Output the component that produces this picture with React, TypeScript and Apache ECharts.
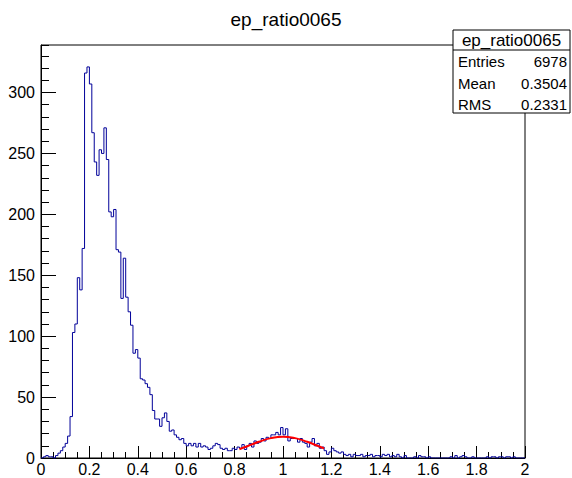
import React, { useEffect, useRef } from "react";
import * as echarts from "echarts";

const TITLE = "ep_ratio0065";
const X_MIN = 0;
const X_MAX = 2;
const BIN_WIDTH = 0.01;
const Y_MAX = 339;

// bin contents, 200 bins of width 0.01 from 0 to 2
const counts: number[] = [
  0, 1, 2, 1, 1, 0, 2, 4, 6, 9,
  12, 18, 34, 103, 110, 148, 138, 172, 316, 321,
  307, 267, 243, 232, 253, 250, 271, 245, 202, 198,
  204, 171, 169, 131, 164, 132, 120, 109, 86, 89,
  82, 65, 64, 61, 58, 52, 39, 32, 32, 26,
  33, 37, 30, 22, 23, 19, 17, 15, 16, 12,
  10, 12, 10, 12, 9, 12, 9, 10, 9, 7,
  8, 10, 12, 11, 8, 7, 8, 6, 6, 8,
  7, 9, 8, 11, 7, 10, 12, 9, 14, 12,
  13, 16, 14, 17, 16, 19, 19, 21, 19, 25,
  19, 24, 14, 16, 16, 16, 13, 16, 13, 12,
  9, 13, 16, 10, 12, 8, 9, 6, 3, 5,
  8, 6, 5, 4, 5, 3, 2, 3, 1, 3,
  2, 2, 3, 1, 2, 2, 3, 1, 2, 2,
  1, 3, 2, 3, 1, 2, 1, 3, 1, 0,
  2, 0, 0, 0, 1, 0, 2, 1, 1, 0,
  1, 0, 0, 0, 0, 0, 0, 0, 0, 1,
  0, 2, 0, 1, 2, 1, 0, 0, 1, 0,
  0, 0, 0, 0, 1, 0, 1, 1, 0, 1,
  1, 0, 1, 1, 0, 1, 0, 0, 0, 0,
];

// fitted gaussian curve
const fitX: number[] = [0.82, 0.85, 0.9, 0.95, 1.0, 1.05, 1.1, 1.15, 1.17];
const fitY: number[] = [7.2, 9.4, 13.3, 16.3, 17.5, 16.3, 13.3, 9.4, 7.9];

const statLabels: string[] = ["Entries", "Mean", "RMS"];
const statValues: string[] = ["6978", "0.3504", "0.2331"];

const FONT = "'Liberation Sans', Arial, Helvetica, sans-serif";

export default function App() {
  const ref = useRef<HTMLDivElement>(null);

  useEffect(() => {
    if (!ref.current) return;
    const chart = echarts.init(ref.current, undefined, { renderer: "svg" });

    const histData: [number, number][] = counts.map((c, i) => [
      +(X_MIN + i * BIN_WIDTH).toFixed(4),
      c,
    ]);
    histData.push([X_MAX, counts[counts.length - 1]]);

    const fitData = fitX.map((x, i) => [x, fitY[i]]);

    const boxX = 453;
    const boxY = 30;
    const boxW = 117;
    const boxH = 83;
    const rowYs = [61, 83, 104];

    const statGraphics: any[] = [
      {
        type: "rect",
        shape: { x: boxX, y: boxY, width: boxW, height: boxH },
        style: { fill: "#fff", stroke: "#000", lineWidth: 1 },
        z: 100,
      },
      {
        type: "line",
        shape: { x1: boxX, y1: 50, x2: boxX + boxW, y2: 50 },
        style: { stroke: "#000", lineWidth: 1 },
        z: 101,
      },
      {
        type: "text",
        x: boxX + boxW / 2,
        y: 40,
        style: {
          text: TITLE,
          fill: "#000",
          font: `17px ${FONT}`,
          textAlign: "center",
          textVerticalAlign: "middle",
        },
        z: 101,
      },
    ];
    statLabels.forEach((lab, i) => {
      statGraphics.push({
        type: "text",
        x: boxX + 5,
        y: rowYs[i],
        style: {
          text: lab,
          fill: "#000",
          font: `15px ${FONT}`,
          textAlign: "left",
          textVerticalAlign: "middle",
        },
        z: 101,
      });
      statGraphics.push({
        type: "text",
        x: boxX + boxW - 3,
        y: rowYs[i],
        style: {
          text: statValues[i],
          fill: "#000",
          font: `15px ${FONT}`,
          textAlign: "right",
          textVerticalAlign: "middle",
        },
        z: 101,
      });
    });

    chart.setOption({
      animation: false,
      backgroundColor: "#fff",
      title: {
        text: TITLE,
        left: "center",
        top: 5,
        textStyle: {
          fontFamily: FONT,
          fontSize: 19,
          fontWeight: "normal",
          color: "#000",
        },
      },
      grid: {
        left: 41,
        top: 45,
        right: 47,
        bottom: 20,
        show: true,
        borderColor: "#000",
        borderWidth: 1,
        backgroundColor: "transparent",
      },
      xAxis: {
        type: "value",
        min: X_MIN,
        max: X_MAX,
        interval: 0.2,
        axisLine: { show: true, lineStyle: { color: "#000", width: 1 } },
        axisTick: { show: true, inside: true, length: 12, lineStyle: { color: "#000" } },
        minorTick: { show: true, splitNumber: 4, length: 6, lineStyle: { color: "#000" } },
        splitLine: { show: false },
        minorSplitLine: { show: false },
        axisLabel: {
          color: "#000",
          fontFamily: FONT,
          fontSize: 16,
          margin: 3,
          showMaxLabel: true,
          showMinLabel: true,
        },
      },
      yAxis: [
        {
          type: "value",
          position: "left",
          min: 0,
          max: Y_MAX,
          interval: 50,
          axisLine: { show: true, lineStyle: { color: "#000", width: 1 } },
          axisTick: { show: true, inside: true, length: 15, lineStyle: { color: "#000" } },
          splitLine: { show: false },
          axisLabel: {
            color: "#000",
            fontFamily: FONT,
            fontSize: 16,
            margin: 6,
            showMaxLabel: false,
          },
        },
        {
          type: "value",
          position: "left",
          offset: 0,
          min: 0,
          max: Y_MAX,
          interval: 10,
          axisLine: { show: false },
          axisTick: { show: true, inside: true, length: 8, lineStyle: { color: "#000" } },
          splitLine: { show: false },
          axisLabel: { show: false },
        },
      ],
      series: [
        {
          type: "line",
          name: "hist",
          data: histData,
          step: "end",
          showSymbol: false,
          symbol: "none",
          xAxisIndex: 0,
          yAxisIndex: 0,
          lineStyle: { color: "#000099", width: 1 },
          itemStyle: { color: "#000099" },
          z: 3,
        },
        {
          type: "line",
          name: "fit",
          data: fitData,
          smooth: true,
          showSymbol: false,
          symbol: "none",
          xAxisIndex: 0,
          yAxisIndex: 0,
          lineStyle: { color: "#ff0000", width: 2 },
          itemStyle: { color: "#ff0000" },
          z: 4,
        },
      ],
      graphic: statGraphics,
    });

    return () => {
      chart.dispose();
    };
  }, []);

  return (
    <div
      ref={ref}
      style={{ position: "fixed", left: 0, top: 0, width: 572, height: 478, background: "#fff" }}
    />
  );
}
